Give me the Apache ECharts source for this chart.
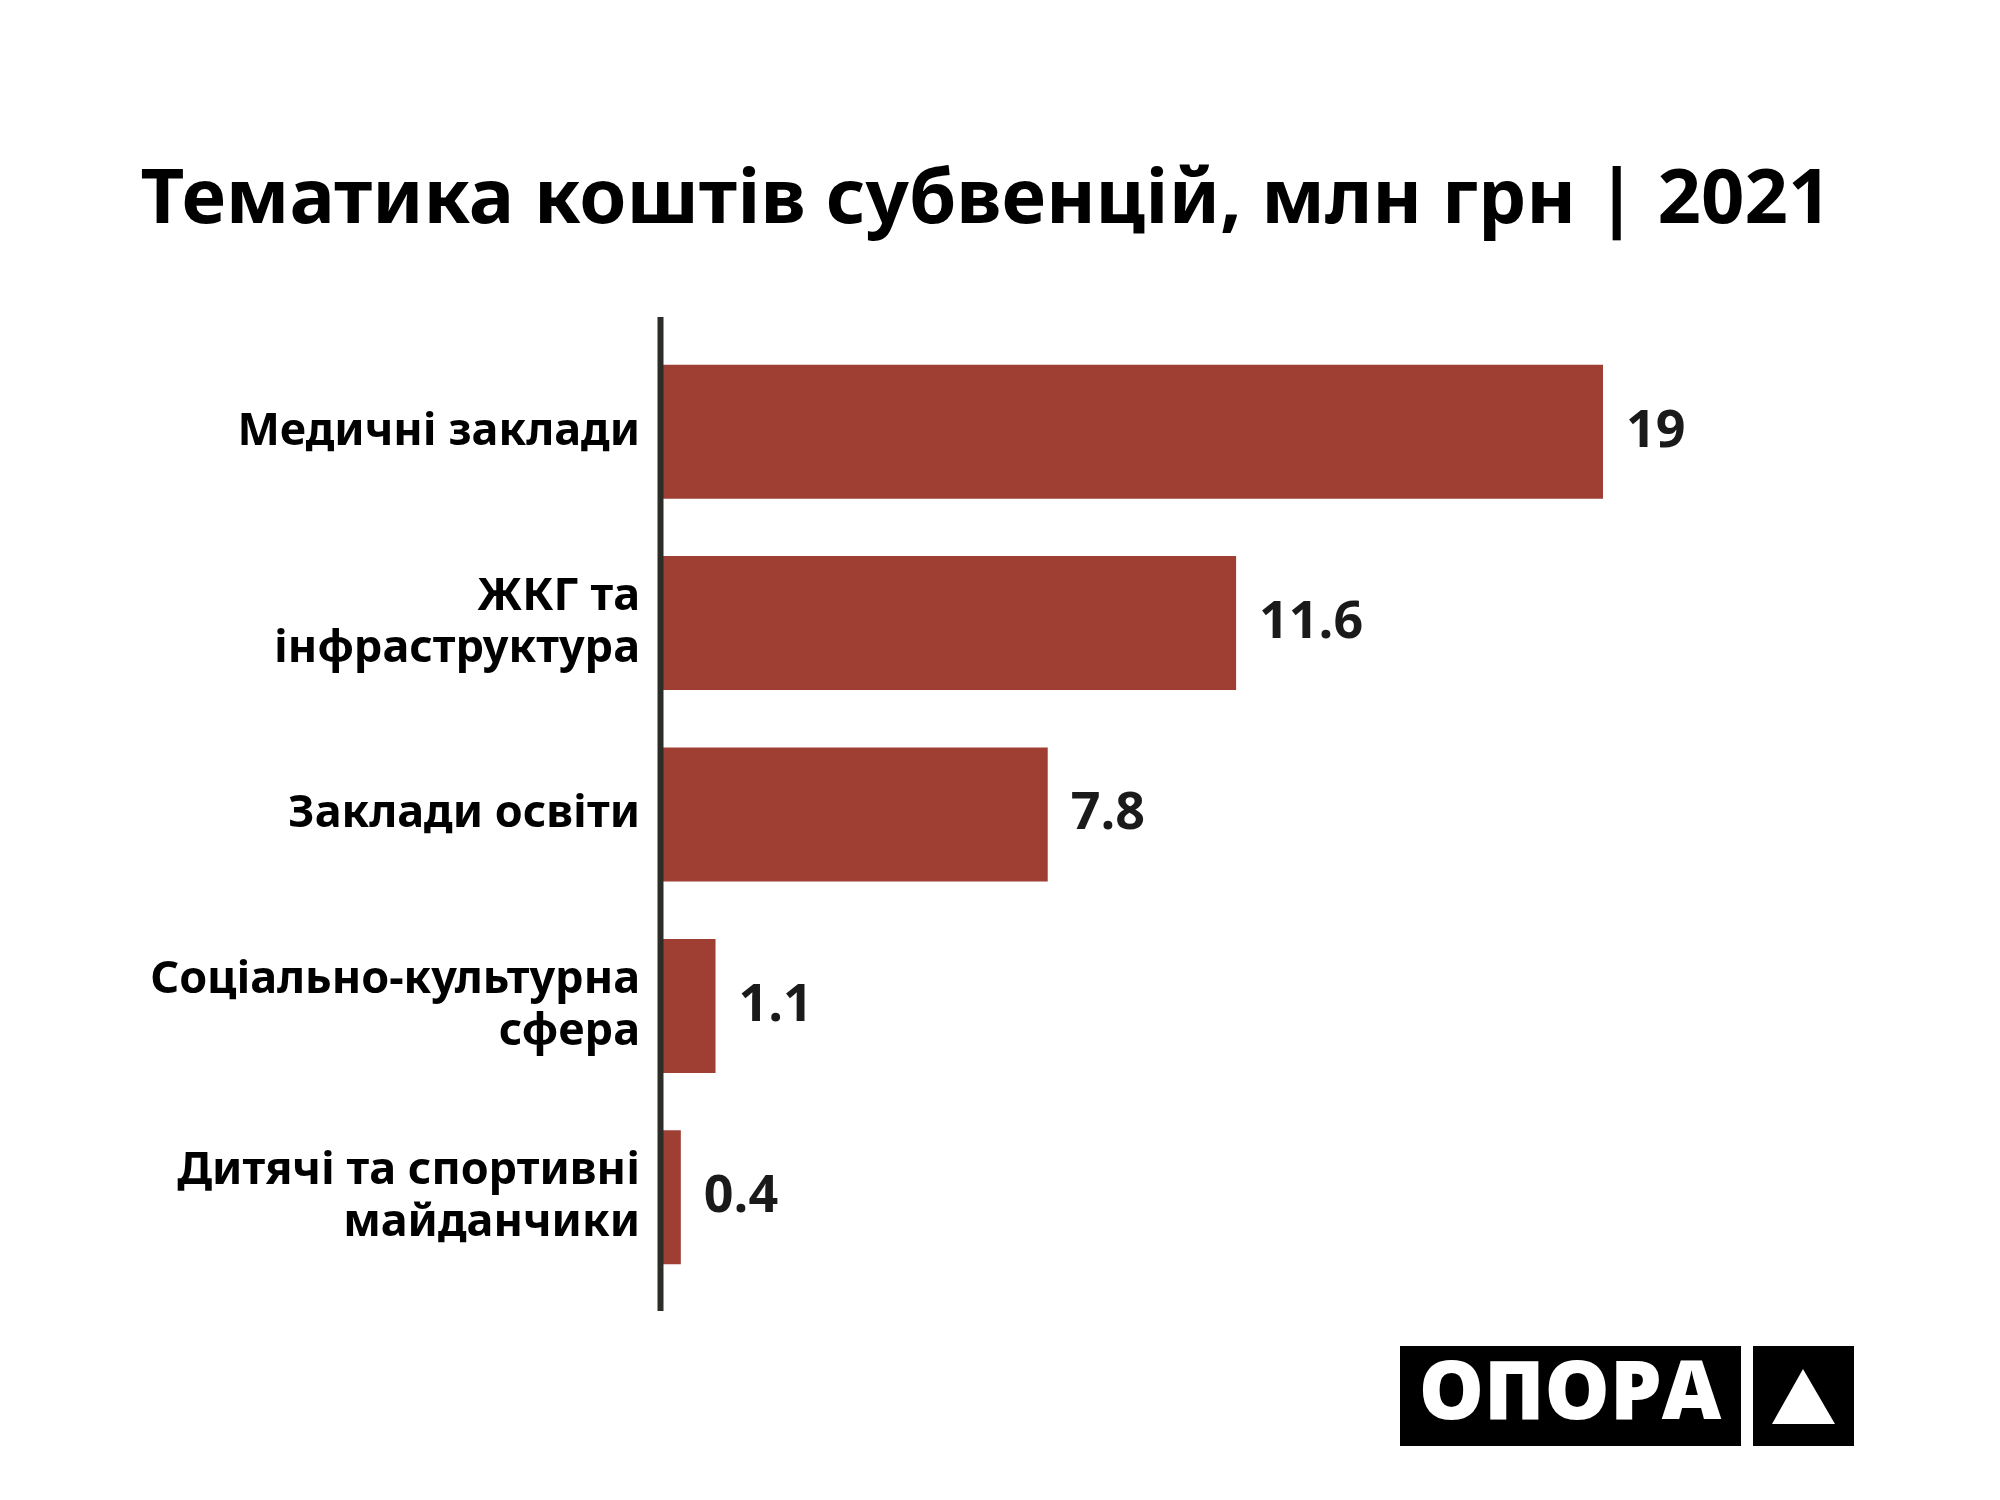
<!DOCTYPE html>
<html>
<head>
<meta charset="utf-8">
<script src="https://cdn.jsdelivr.net/npm/echarts@6/dist/echarts.min.js"></script>
<style>
html,body{margin:0;padding:0;background:#fff;}
#chart{width:2000px;height:1500px;}
</style>
</head>
<body>
<div id="chart"></div>
<script>
const titleText = 'Тематика коштів субвенцій, млн грн | 2021';
const categories = [
  'Медичні заклади',
  'ЖКГ та\nінфраструктура',
  'Заклади освіти',
  'Соціально-культурна\nсфера',
  'Дитячі та спортивні\nмайданчики'
];
const values = [19, 11.6, 7.8, 1.1, 0.4];
const logoText = 'ОПОРА';

const FONT = '"Noto Sans", "Open Sans", sans-serif';
const NUMFONT = '"Open Sans", "Noto Sans", sans-serif';
const chart = echarts.init(document.getElementById('chart'));

const gridLeft = 661, gridRight = 397, gridTop = 336, gridBottom = 207;

chart.setOption({
  backgroundColor: '#ffffff',
  animation: false,
  title: {
    text: titleText,
    left: 981,
    textAlign: 'center',
    top: 158,
    textStyle: {
      fontFamily: FONT,
      fontWeight: 'bold',
      fontSize: 76,
      color: '#000000'
    }
  },
  grid: { left: gridLeft, right: gridRight, top: gridTop, bottom: gridBottom, containLabel: false },
  xAxis: {
    type: 'value',
    min: 0,
    max: 19,
    show: false
  },
  yAxis: {
    type: 'category',
    data: categories,
    inverse: true,
    axisLine: { show: false },
    axisTick: { show: false },
    axisLabel: {
      margin: 21,
      fontFamily: FONT,
      fontWeight: 'bold',
      fontSize: 45,
      lineHeight: 52,
      padding: [6, 0, 0, 0],
      color: '#000000',
      align: 'right'
    }
  },
  series: [{
    type: 'bar',
    data: values,
    barCategoryGap: '30%',
    itemStyle: { color: '#9f3f34' },
    label: {
      show: true,
      position: 'right',
      distance: 23,
      fontFamily: NUMFONT,
      fontWeight: 'bold',
      fontSize: 52,
      color: '#1a1a1a'
    }
  }],
  graphic: [
    {
      type: 'line',
      z: 100,
      shape: { x1: 660.5, y1: 317, x2: 660.5, y2: 1311 },
      style: { stroke: '#2d2d27', lineWidth: 6 }
    },
    {
      type: 'rect',
      shape: { x: 1400, y: 1346, width: 341, height: 100 },
      style: { fill: '#000000' }
    },
    {
      type: 'text',
      x: 1570,
      y: 1396,
      style: {
        text: logoText,
        fill: '#ffffff',
        fontFamily: NUMFONT,
        fontWeight: 800,
        fontSize: 82,
        align: 'center',
        verticalAlign: 'middle'
      }
    },
    {
      type: 'rect',
      shape: { x: 1753, y: 1346, width: 101, height: 100 },
      style: { fill: '#000000' }
    },
    {
      type: 'polygon',
      shape: { points: [[1803, 1369], [1835, 1424], [1772, 1424]] },
      style: { fill: '#ffffff' }
    }
  ]
});
</script>
</body>
</html>
